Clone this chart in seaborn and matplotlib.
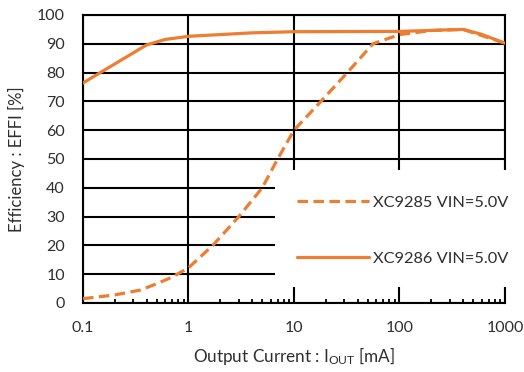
import numpy as np
import pandas as pd
import matplotlib
matplotlib.use("Agg")
import matplotlib.pyplot as plt
import matplotlib.ticker as mticker
from matplotlib.patches import Rectangle
import seaborn as sns

# ---- data ----
xc9285_current = [0.1, 0.2, 0.35, 0.5, 0.7, 1, 1.7, 3, 5, 7, 10, 18, 32, 56, 100, 200, 400, 1000]
xc9285_eff = [1.5, 2.8, 4.5, 6.7, 9.0, 12.2, 20, 30, 40, 50, 60, 70, 80, 90, 93.2, 94.6, 95.0, 90.2]
xc9286_current = [0.1, 0.4, 0.6, 1, 4, 10, 100, 400, 600, 1000]
xc9286_eff = [76.4, 89.6, 91.5, 92.6, 93.8, 94.2, 94.3, 95.0, 93.3, 90.2]
series_names = ["XC9285 VIN=5.0V", "XC9286 VIN=5.0V"]
x_ticks = [0.1, 1, 10, 100, 1000]
x_tick_labels = ["0.1", "1", "10", "100", "1000"]
y_ticks = [0, 10, 20, 30, 40, 50, 60, 70, 80, 90, 100]

df = pd.concat([
    pd.DataFrame({"I": xc9285_current, "eff": xc9285_eff, "series": series_names[0]}),
    pd.DataFrame({"I": xc9286_current, "eff": xc9286_eff, "series": series_names[1]}),
], ignore_index=True)

sns.set_style("white")
plt.rcParams["font.family"] = ["Lato", "DejaVu Sans"]
plt.rcParams["mathtext.fontset"] = "custom"
plt.rcParams["mathtext.rm"] = "Lato"
plt.rcParams["mathtext.it"] = "Lato"

txt = "#2e2e2e"
orange = "#ED7D31"

fig = plt.figure(figsize=(5.24, 3.72), dpi=100)
ax = fig.add_axes([83 / 524, 1 - 303 / 372, 422 / 524, 288 / 372])

sns.lineplot(data=df, x="I", y="eff", style="series", style_order=series_names,
             dashes={series_names[0]: (3.3, 1.7), series_names[1]: ""},
             color=orange, linewidth=2.3, sort=False, ax=ax, zorder=3)

ax.set_xscale("log")
ax.set_xlim(0.1, 1000)
ax.set_ylim(0, 100)
ax.set_xticks(x_ticks)
ax.set_xticklabels(x_tick_labels)
ax.set_yticks(y_ticks)
ax.xaxis.set_minor_locator(mticker.LogLocator(base=10, subs=np.arange(2, 10), numticks=20))
ax.xaxis.set_minor_formatter(mticker.NullFormatter())

ax.grid(True, which="major", color="black", linewidth=1.5, zorder=1)
ax.set_axisbelow(True)
for s in ax.spines.values():
    s.set_visible(True)
    s.set_color("black")
    s.set_linewidth(1.5)

ax.tick_params(axis="both", which="major", length=0, pad=13, labelsize=11.5, labelcolor=txt)
ax.tick_params(axis="x", which="minor", direction="in", length=3, width=1.3, color="black", bottom=True)

ax.set_xlabel(r"Output Current : I$_{\mathrm{OUT}}$ [mA]", fontsize=12.3, color=txt)
ax.set_ylabel("Efficiency : EFFI [%]", fontsize=12, color=txt)
ax.xaxis.set_label_coords(0.5, -0.145)
ax.yaxis.set_label_coords(-0.138, 0.5)

# white legend area covering the grid
ax.add_patch(Rectangle((0.455, 0.0556), 0.56, 0.407, transform=ax.transAxes,
                       facecolor="white", edgecolor="none", zorder=4, clip_on=False))

leg = ax.legend(loc="center left", bbox_to_anchor=(0.488, 0.251), frameon=False,
                borderpad=0, handlelength=4.4, handletextpad=0.25, labelspacing=2.55,
                fontsize=11.8)
leg.set_zorder(5)
for t in leg.get_texts():
    t.set_color(txt)
for h in leg.get_lines():
    h.set_linewidth(2.3)

fig.savefig("out.png", dpi=100)
